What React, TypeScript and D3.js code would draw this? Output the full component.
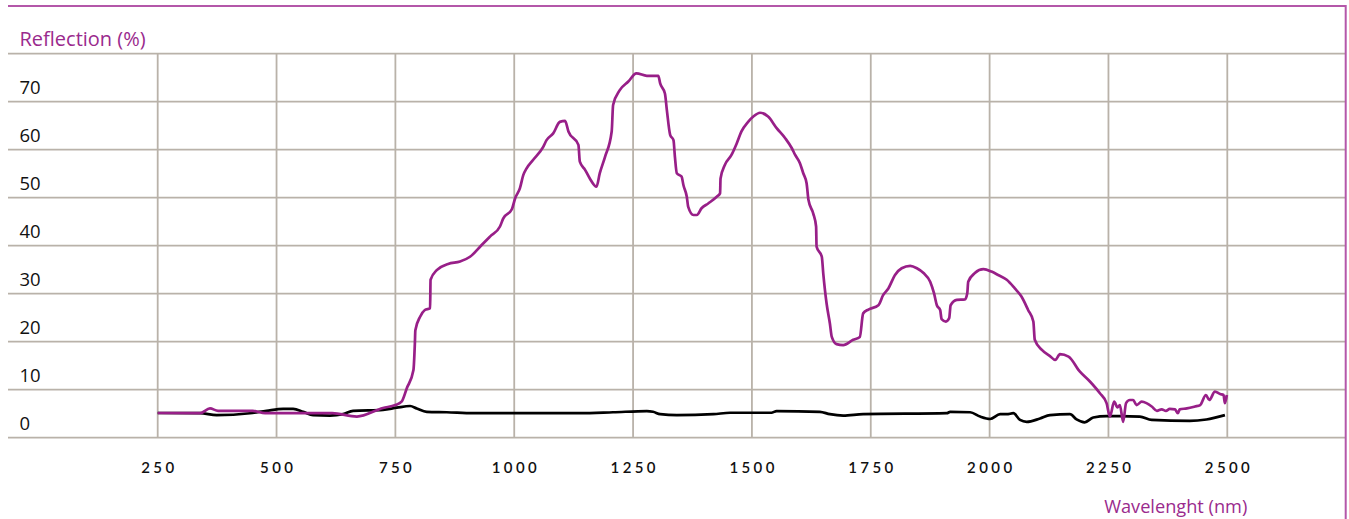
import React from "react";
import * as d3 from "d3";

const yTicks = [0, 10, 20, 30, 40, 50, 60, 70];
const yGrid = [0, 10, 20, 30, 40, 50, 60, 70, 80];
const xTicks = [250, 500, 750, 1000, 1250, 1500, 1750, 2000, 2250, 2500];

const magentaNm = [250, 339, 360, 377, 450, 476, 617, 669, 724, 750, 763, 774, 788, 791, 792, 802, 812, 823, 824, 837, 861, 886, 907, 931, 949, 970, 977, 995, 1002, 1012, 1019, 1026, 1040, 1061, 1068, 1082, 1096, 1107, 1114, 1135, 1138, 1149, 1159, 1173, 1180, 1191, 1205, 1208, 1222, 1240, 1257, 1279, 1303, 1307, 1317, 1321, 1328, 1335, 1338, 1342, 1352, 1356, 1363, 1366, 1377, 1384, 1394, 1408, 1426, 1433, 1434, 1443, 1457, 1468, 1478, 1492, 1503, 1517, 1534, 1552, 1570, 1584, 1591, 1601, 1608, 1615, 1619, 1629, 1635, 1636, 1647, 1650, 1657, 1664, 1668, 1678, 1692, 1713, 1727, 1734, 1745, 1766, 1776, 1787, 1801, 1815, 1833, 1847, 1861, 1875, 1883, 1889, 1896, 1899, 1908, 1915, 1918, 1931, 1948, 1953, 1955, 1969, 1987, 2004, 2018, 2036, 2053, 2067, 2081, 2092, 2095, 2110, 2127, 2138, 2148, 2166, 2190, 2211, 2232, 2246, 2253, 2262, 2269, 2274, 2281, 2287, 2295, 2302, 2309, 2320, 2330, 2341, 2352, 2362, 2371, 2379, 2390, 2396, 2400, 2415, 2432, 2443, 2455, 2462, 2474, 2485, 2492, 2495, 2499];
const magentaVal = [5.15, 5.1, 6.1, 5.6, 5.6, 5.1, 5.1, 4.4, 6.2, 6.8, 7.5, 10.3, 14.1, 19.7, 22.4, 25.2, 26.6, 27, 32.9, 34.9, 36.2, 36.7, 37.7, 40.1, 41.9, 44, 45.7, 47.6, 49.9, 52, 54.7, 56.1, 57.9, 60.6, 62, 63.4, 65.8, 66, 63.8, 61, 57.5, 55.8, 54, 52.3, 55.1, 58.5, 63.8, 69.3, 72.4, 74.2, 75.9, 75.4, 75.4, 73.8, 71.7, 68.3, 63.1, 62, 58.5, 55.1, 54.4, 52.6, 50.2, 48.1, 46.4, 46.4, 47.8, 48.8, 50.2, 50.9, 54, 56.8, 58.9, 61.3, 63.8, 65.8, 66.9, 67.7, 66.9, 64.5, 62.4, 60.3, 58.9, 57.2, 55.1, 53, 49.5, 46.7, 44, 39.8, 37.7, 34.3, 28, 23.8, 21, 19.5, 19.3, 20.4, 21, 25.9, 26.7, 27.6, 29.7, 31.1, 33.9, 35.3, 35.8, 35.3, 34.3, 32.5, 30.1, 27.6, 26.6, 24.7, 24.2, 24.9, 27.6, 28.7, 28.8, 30.1, 32.5, 34.3, 35.1, 34.6, 33.9, 32.9, 31.1, 29.4, 26.6, 24.2, 20.4, 18.3, 17, 16.2, 17.4, 16.9, 13.75, 11.7, 9.25, 7.2, 4.4, 7.5, 6.3, 6.8, 3.3, 7.2, 7.85, 7.85, 6.8, 7.5, 7.2, 6.5, 5.6, 5.9, 5.6, 6, 5.9, 5.1, 5.9, 6.1, 6.5, 6.8, 8.9, 7.85, 9.6, 9.1, 8.9, 7.2, 8.9];

const blackNm = [250, 339, 374, 444, 479, 514, 535, 556, 577, 612, 640, 661, 724, 753, 781, 795, 816, 858, 914, 1138, 1208, 1279, 1292, 1307, 1342, 1419, 1454, 1541, 1552, 1643, 1664, 1692, 1734, 1910, 1917, 1959, 1980, 2001, 2022, 2036, 2050, 2064, 2078, 2106, 2127, 2169, 2183, 2200, 2218, 2246, 2274, 2316, 2341, 2421, 2456, 2495];
const blackVal = [5.15, 5.1, 4.7, 5.1, 5.6, 6.0, 6.0, 5.4, 4.7, 4.6, 4.9, 5.6, 5.8, 6.25, 6.6, 6.1, 5.4, 5.3, 5.1, 5.1, 5.3, 5.55, 5.4, 4.9, 4.7, 4.9, 5.2, 5.2, 5.55, 5.4, 4.9, 4.6, 4.9, 5.1, 5.4, 5.3, 4.4, 3.9, 4.9, 4.9, 5.1, 3.7, 3.3, 4.0, 4.7, 4.9, 3.8, 3.2, 4.2, 4.5, 4.5, 4.4, 3.7, 3.5, 3.8, 4.7];

const W = 1349;
const H = 519;
const MAGENTA = "#981f88";
const TEXT_MAGENTA = "#9a2a8d";
const BORDER = "#b457a9";
const GRID = "#b9b2a9";
const FONT = "'Open Sans', 'Noto Sans', sans-serif";
const TICK_FONT = "Lato, 'Open Sans', sans-serif";

export default function App() {
  const x = d3.scaleLinear().domain([250, 2500]).range([157.7, 1227.3]);
  const y = d3.scaleLinear().domain([0, 80]).range([437.7, 53.7]);

  const line = d3
    .line<[number, number]>()
    .x((d) => x(d[0]))
    .y((d) => y(d[1]))
    .curve(d3.curveMonotoneX);

  const magenta = magentaNm.map((n, i) => [n, magentaVal[i]] as [number, number]);
  const black = blackNm.map((n, i) => [n, blackVal[i]] as [number, number]);

  return (
    <div style={{ position: "absolute", left: 0, top: 0 }}>
      <svg width={W} height={H} style={{ display: "block" }}>
        <rect x={0} y={0} width={W} height={H} fill="#fff" />
        {yGrid.map((v) => (
          <line key={"h" + v} x1={8} x2={1345} y1={y(v)} y2={y(v)} stroke={GRID} strokeWidth={1.8} />
        ))}
        {xTicks.map((v) => (
          <line key={"v" + v} x1={x(v)} x2={x(v)} y1={y(80)} y2={y(0)} stroke={GRID} strokeWidth={1.8} />
        ))}
        <line x1={8} x2={1346} y1={6} y2={6} stroke={BORDER} strokeWidth={2} />
        <line x1={1345.7} x2={1345.7} y1={5} y2={H} stroke={BORDER} strokeWidth={2} />
        <path d={line(black) || ""} fill="none" stroke="#000" strokeWidth={2.7} strokeLinejoin="round" />
        <path d={line(magenta) || ""} fill="none" stroke={MAGENTA} strokeWidth={2.7} strokeLinejoin="round" />
        {yTicks.map((v) => (
          <text key={"yl" + v} x={19.5} y={y(v) - 8} fontFamily={FONT} fontSize={18.5} fill="#111">
            {v}
          </text>
        ))}
        {xTicks.map((v) => (
          <text
            key={"xl" + v}
            x={x(v) + 1.7}
            y={473}
            textAnchor="middle"
            fontFamily={TICK_FONT}
            fontSize={15}
            fontWeight={600}
            letterSpacing={3.4}
            fill="#111"
          >
            {v}
          </text>
        ))}
        <text x={19.5} y={45.7} fontFamily={FONT} fontSize={20} fill={TEXT_MAGENTA}>
          Reflection (%)
        </text>
        <text x={1247.3} y={513.3} textAnchor="end" fontFamily={FONT} fontSize={18.2} fill={TEXT_MAGENTA}>
          Wavelenght (nm)
        </text>
      </svg>
    </div>
  );
}
